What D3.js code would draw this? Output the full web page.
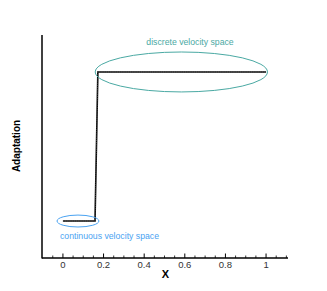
<!DOCTYPE html>
<html lang="en">
<head>
<meta charset="UTF-8">
<title>Adaptation</title>
<script src="https://cdnjs.cloudflare.com/ajax/libs/d3/7.8.5/d3.min.js"></script>
<style>
  body { margin: 0; background: #fff; }
  svg { font-family: "Liberation Sans", Arial, sans-serif; }
</style>
</head>
<body>
<svg width="327" height="291"></svg>
<script>
// data
const xValues = [0, 0.158, 0.172, 1];
const adaptValues = [0, 0, 1, 1];
const majorTicks = [0, 0.2, 0.4, 0.6, 0.8, 1];
const tickLabels = ["0", "0.2", "0.4", "0.6", "0.8", "1"];
// annotation ellipses: [cx, cy, rx, ry] in data units
const regionNames = ["discrete velocity space", "continuous velocity space"];
const regionEllipses = [[0.583, 1, 0.424, 0.134], [0.074, 0, 0.103, 0.04]];

const svg = d3.select("svg");
const x = d3.scaleLinear().domain([-0.103, 1.108]).range([42, 288]);
const y = d3.scaleLinear().domain([-0.248, 1.248]).range([258, 35]);

// axes lines
svg.append("line").attr("x1", 42).attr("x2", 42).attr("y1", 35).attr("y2", 258.5)
  .attr("stroke", "#000").attr("stroke-width", 1.5);
svg.append("line").attr("x1", 42).attr("x2", 288).attr("y1", 258).attr("y2", 258)
  .attr("stroke", "#000").attr("stroke-width", 1.5);

// ticks (pointing up into the plot)
const minor = d3.range(-0.1, 1.101, 0.05).map(v => +v.toFixed(2))
  .filter(v => !majorTicks.includes(v) && v > -0.1);
svg.append("g").selectAll("line").data(minor).join("line")
  .attr("x1", d => x(d)).attr("x2", d => x(d))
  .attr("y1", 258).attr("y2", 255.5)
  .attr("stroke", "#000").attr("stroke-width", 0.8);
svg.append("g").selectAll("line").data(majorTicks).join("line")
  .attr("x1", d => x(d)).attr("x2", d => x(d))
  .attr("y1", 258).attr("y2", 253.5)
  .attr("stroke", "#000").attr("stroke-width", 1);
svg.append("g").selectAll("text").data(majorTicks).join("text")
  .attr("x", d => x(d)).attr("y", 268)
  .attr("text-anchor", "middle").attr("font-size", 9.5).attr("fill", "#333")
  .text((d, i) => tickLabels[i]);

// axis titles
svg.append("text").attr("x", x(0.5) + 1).attr("y", 277.5)
  .attr("text-anchor", "middle").attr("font-size", 11).attr("font-weight", "bold")
  .text("X");
svg.append("text").attr("transform", "translate(20,146) rotate(-90)")
  .attr("text-anchor", "middle").attr("font-size", 10).attr("font-weight", "bold")
  .text("Adaptation");

// data line
const line = d3.line().x((d, i) => x(xValues[i])).y(d => y(d));
svg.append("path").datum(adaptValues).attr("d", line)
  .attr("fill", "none").attr("stroke", "#000").attr("stroke-width", 1.6);
svg.append("path").datum(adaptValues).attr("d", line)
  .attr("fill", "none").attr("stroke", "#777").attr("stroke-width", 0.6)
  .attr("stroke-dasharray", "1,1.2");

// ellipses and labels
const colors = ["#4aa9a3", "#4aa3f2"];
svg.append("g").selectAll("ellipse").data(regionEllipses).join("ellipse")
  .attr("cx", d => x(d[0])).attr("cy", d => y(d[1]))
  .attr("rx", d => x(d[2]) - x(0)).attr("ry", d => y(0) - y(d[3]))
  .attr("fill", "none").attr("stroke", (d, i) => colors[i]).attr("stroke-width", 1);

svg.append("text").attr("x", 190).attr("y", 44.5)
  .attr("text-anchor", "middle").attr("font-size", 8.7).attr("fill", colors[0])
  .text(regionNames[0]);
svg.append("text").attr("x", 60).attr("y", 238.5)
  .attr("text-anchor", "start").attr("font-size", 8.7).attr("fill", colors[1])
  .text(regionNames[1]);
</script>
</body>
</html>
